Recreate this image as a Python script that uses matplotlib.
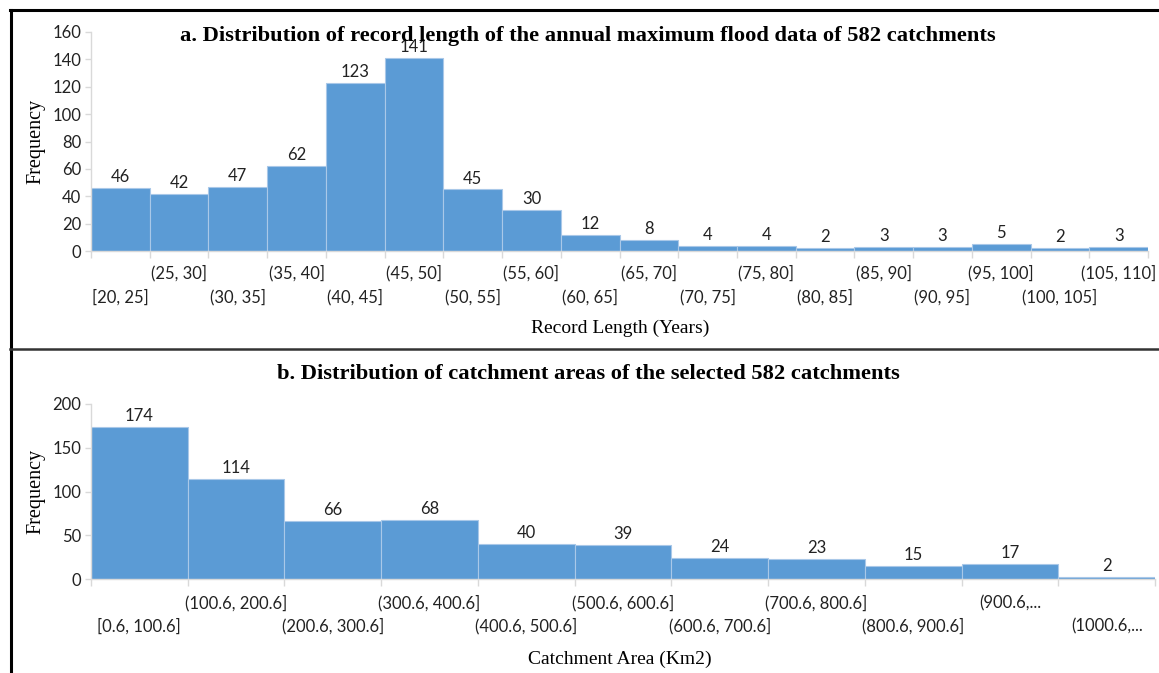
import matplotlib.pyplot as plt
from matplotlib.lines import Line2D
import numpy as np

# top panel: record length
rec_labels = ["[20, 25]", "(25, 30]", "(30, 35]", "(35, 40]", "(40, 45]", "(45, 50]",
              "(50, 55]", "(55, 60]", "(60, 65]", "(65, 70]", "(70, 75]", "(75, 80]",
              "(80, 85]", "(85, 90]", "(90, 95]", "(95, 100]", "(100, 105]", "(105, 110]"]
rec_counts = [46, 42, 47, 62, 123, 141, 45, 30, 12, 8, 4, 4, 2, 3, 3, 5, 2, 3]

# bottom panel: catchment area
area_labels = ["[0.6, 100.6]", "(100.6, 200.6]", "(200.6, 300.6]", "(300.6, 400.6]",
               "(400.6, 500.6]", "(500.6, 600.6]", "(600.6, 700.6]", "(700.6, 800.6]",
               "(800.6, 900.6]", "(900.6,...", "(1000.6,..."]
area_counts = [174, 114, 66, 68, 40, 39, 24, 23, 15, 17, 2]

BLUE = "#5B9BD5"
GRID = "#D9D9D9"
SANS = ["Lato", "DejaVu Sans"]
SERIF = ["Liberation Serif", "DejaVu Serif"]

W, H = 1159, 673
fig = plt.figure(figsize=(W / 100, H / 100), dpi=100)


def fx(px): return px / W
def fy(py): return 1 - py / H


def hist_panel(rect, labels, counts, ymax, ystep, title, xlabel, title_y, xlabel_y, row1, row2):
    ax = fig.add_axes(rect)
    n = len(counts)
    x = np.arange(n)
    ax.bar(x, counts, width=1, align="edge", color=BLUE, edgecolor="#A9C8E8", linewidth=0.8)
    ax.set_xlim(0, n)
    ax.set_ylim(0, ymax)
    ax.set_yticks(np.arange(0, ymax + 1, ystep))
    ax.set_xticks(np.arange(n + 1))
    ax.set_xticklabels([])
    for s in ["top", "right"]:
        ax.spines[s].set_visible(False)
    for s in ["left", "bottom"]:
        ax.spines[s].set_color(GRID)
        ax.spines[s].set_linewidth(1)
    ax.tick_params(axis="x", length=5, color=GRID, width=1)
    ax.tick_params(axis="y", length=4, color=GRID, width=1, pad=3, labelsize=12, labelcolor="#222222")
    for t in ax.get_yticklabels():
        t.set_fontfamily(SANS)
    for i, (lab, c) in enumerate(zip(labels, counts)):
        ax.annotate(str(c), (i + 0.5, c), xytext=(0, 2), textcoords="offset points",
                    ha="center", va="bottom", fontsize=12, family=SANS, color="#222222")
        off = row1 if i % 2 == 1 else row2
        ax.annotate(lab, (i + 0.5, 0), xycoords=("data", "axes fraction"), xytext=(0, -off),
                    textcoords="offset pixels", ha="center", va="center", fontsize=12,
                    family=SANS, color="#222222")
    ax.set_ylabel("Frequency", family=SERIF, fontsize=14.5, labelpad=5)
    fig.text(fx(620), fy(xlabel_y), xlabel, ha="center", va="center", family=SERIF, fontsize=14)
    fig.text(fx(588), fy(title_y), title, ha="center", va="center", family=SERIF,
             fontsize=16.2, fontweight="bold")
    return ax


ax1 = hist_panel([fx(91), fy(251), fx(1148) - fx(91), fy(32) - fy(251)],
                 rec_labels, rec_counts, 160, 20,
                 "a. Distribution of record length of the annual maximum flood data of 582 catchments",
                 "Record Length (Years)", 36, 328, 22, 46)
ax2 = hist_panel([fx(91), fy(579), fx(1155) - fx(91), fy(404) - fy(579)],
                 area_labels, area_counts, 200, 50,
                 "b. Distribution of catchment areas of the selected 582 catchments",
                 "Catchment Area (Km2)", 374, 659, 24, 47)

# frame lines around the panels
fig.add_artist(Line2D([fx(10), 1], [fy(10), fy(10)], color="black", lw=2.2))
fig.add_artist(Line2D([fx(11), fx(11)], [fy(10), 0], color="black", lw=2.2))
fig.add_artist(Line2D([fx(10), 1], [fy(349), fy(349)], color="#333333", lw=1.8))

fig.savefig("out.png", dpi=100)
